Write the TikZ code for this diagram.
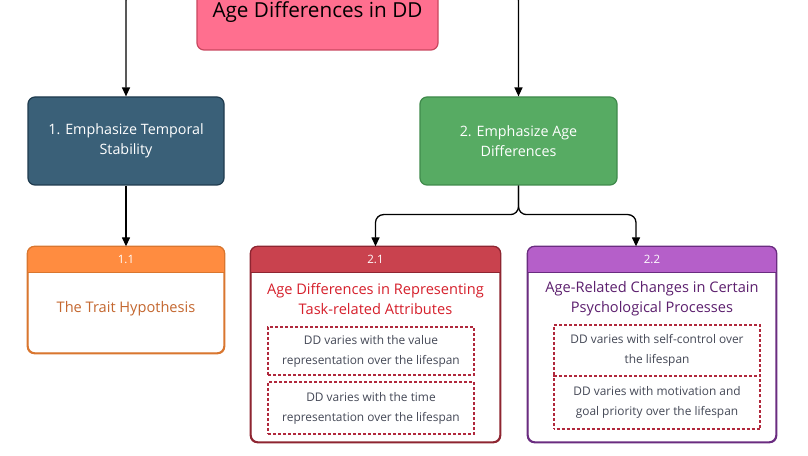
\documentclass[tikz,border=0pt]{standalone}
\usepackage{fontspec}
\setmainfont{Open Sans}
\usetikzlibrary{arrows.meta}

\definecolor{rootfill}{HTML}{FF6F8F}
\definecolor{rootdraw}{HTML}{C9475F}
\definecolor{tealfill}{HTML}{3A6078}
\definecolor{tealdraw}{HTML}{1F3B4E}
\definecolor{greenfill}{HTML}{57AB63}
\definecolor{greendraw}{HTML}{3F8A4B}
\definecolor{orangehead}{HTML}{FF8C40}
\definecolor{orangedraw}{HTML}{D9762F}
\definecolor{orangetext}{HTML}{C4672F}
\definecolor{redhead}{HTML}{C9424E}
\definecolor{reddraw}{HTML}{8E2531}
\definecolor{redtext}{HTML}{D61F2B}
\definecolor{purplehead}{HTML}{B55FC9}
\definecolor{purpledraw}{HTML}{6A2C80}
\definecolor{purpletext}{HTML}{5C1F6E}
\definecolor{dashdraw}{HTML}{B0283C}
\definecolor{bodytext}{HTML}{454957}

\tikzset{
  topbox/.style={rectangle,rounded corners=7pt,line width=1.2pt,align=center,text=white,
    font=\fontsize{14.3}{20}\selectfont,inner sep=0pt},
  card/.style={rectangle,rounded corners=7pt,line width=1.3pt,draw=#1,fill=white,inner sep=0pt},
  hdrtext/.style={text=white,font=\fontsize{11.5}{12}\selectfont,inner sep=0pt},
  cardtitle/.style={align=center,font=\fontsize{14.6}{20}\selectfont,inner sep=0pt},
  dashbox/.style={rectangle,draw=dashdraw,line width=1.1pt,dash pattern=on 3pt off 2pt,
    minimum width=206pt,align=center,text=bodytext,font=\fontsize{11.9}{20}\selectfont,inner sep=0pt},
  conn/.style={line width=1.3pt,rounded corners=8pt,-{Triangle[length=9pt,width=8pt]}}
}

\begin{document}
\begin{tikzpicture}[x=1pt,y=1pt]
  \useasboundingbox (0,0) rectangle (808,455);
  % top level
  \node[topbox,fill=rootfill,draw=rootdraw,text=black,font=\fontsize{20.7}{22}\selectfont,
    minimum width=241pt,minimum height=75pt] (root) at (317.5,442.5) {Age Differences in DD};
  \node[topbox,fill=tealfill,draw=tealdraw,minimum width=196pt,minimum height=88pt]
    (n1) at (126,314) {1. Emphasize Temporal\\Stability};
  \node[topbox,fill=greenfill,draw=greendraw,minimum width=197pt,minimum height=88pt]
    (n2) at (518.5,314) {2. Emphasize Age\\Differences};

  % cards
  \node[card=orangedraw,minimum width=196pt,minimum height=106pt] (n11) at (126,155) {};
  \node[card=reddraw,minimum width=249pt,minimum height=195pt] (n21) at (375.5,110.5) {};
  \node[card=purpledraw,minimum width=248pt,minimum height=195pt] (n22) at (652,110.5) {};
  \foreach \c/\h/\d in {n11/orangehead/orangedraw,n21/redhead/reddraw,n22/purplehead/purpledraw}{
    \fill[\h] ([yshift=-26pt]\c.north west) [rounded corners=7pt] -- (\c.north west)
      -- (\c.north east) [sharp corners] -- ([yshift=-26pt]\c.north east) -- cycle;
    \draw[\d,line width=1.3pt,rounded corners=7pt] (\c.south west) rectangle (\c.north east);
    \draw[\d,line width=1.1pt] ([yshift=-26pt]\c.north west) -- ([yshift=-26pt]\c.north east);
  }
  \node[hdrtext] (h11) at ([yshift=-13pt]n11.north) {1.1};
  \node[hdrtext] (h21) at ([yshift=-13pt]n21.north) {2.1};
  \node[hdrtext] (h22) at ([yshift=-13pt]n22.north) {2.2};

  \node[cardtitle,text=orangetext] (t11) at (126,146) {The Trait Hypothesis};
  \node[cardtitle,text=redtext] (t21) at (375.5,156) {Age Differences in Representing\\Task-related Attributes};
  \node[cardtitle,text=purpletext] (t22) at (652,156) {Age-Related Changes in Certain\\Psychological Processes};

  \node[dashbox,minimum height=48pt] (d21a) at (371,104) {DD varies with the value\\representation over the lifespan};
  \node[dashbox,minimum height=52pt] (d21b) at (371,47) {DD varies with the time\\representation over the lifespan};
  \node[dashbox,minimum height=51pt] (d22a) at (657,104.5) {DD varies with self-control over\\the lifespan};
  \node[dashbox,minimum height=53pt,dash phase=2.5pt] (d22b) at (657,52.5) {DD varies with motivation and\\goal priority over the lifespan};

  % connectors
  \draw[conn] ([yshift=20pt]root.west) -| (n1.north);
  \draw[conn] ([yshift=20pt]root.east) -| (n2.north);
  \draw[conn] (n1.south) -- (n11.north);
  \draw[conn] (n2.south) |- ++(-20,-29) -| (n21.north);
  \draw[conn] (n2.south) |- ++(20,-29) -| ([xshift=-16pt]n22.north);
\end{tikzpicture}
\end{document}
